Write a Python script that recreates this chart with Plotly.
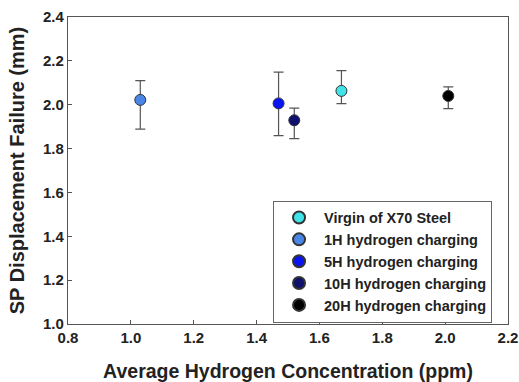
import plotly.graph_objects as go

names = ["Virgin of X70 Steel", "1H hydrogen charging", "5H hydrogen charging",
         "10H hydrogen charging", "20H hydrogen charging"]
conc = [1.67, 1.03, 1.47, 1.52, 2.01]
disp = [2.063, 2.022, 2.006, 1.929, 2.040]
err_plus = [0.092, 0.088, 0.143, 0.055, 0.041]
err_minus = [0.058, 0.133, 0.147, 0.084, 0.058]
colors = ["#3FE3E8", "#4A86E8", "#0A14F0", "#10106E", "#000000"]
xticks = [0.8, 1.0, 1.2, 1.4, 1.6, 1.8, 2.0, 2.2]
yticks = [1.0, 1.2, 1.4, 1.6, 1.8, 2.0, 2.2, 2.4]

fig = go.Figure()
for i in range(len(names)):
    fig.add_trace(go.Scatter(
        x=[conc[i]], y=[disp[i]], mode="markers", name=names[i],
        marker=dict(size=11, color=colors[i], line=dict(color="#333333", width=1)),
        error_y=dict(type="data", symmetric=False, array=[err_plus[i]],
                     arrayminus=[err_minus[i]], color="#555555", thickness=1.2, width=5),
    ))

font_family = "Liberation Sans, Arial, sans-serif"
fig.update_layout(
    width=519, height=382,
    margin=dict(l=68, r=11, t=17, b=58),
    paper_bgcolor="white", plot_bgcolor="white",
    font=dict(family=font_family, color="#222222"),
    showlegend=True,
    legend=dict(x=0.466, y=0.402, xanchor="left", yanchor="top",
                bordercolor="#666666", borderwidth=1, bgcolor="white",
                font=dict(size=14.5, family=font_family, color="#222222", weight="bold"),
                itemsizing="constant", itemwidth=40, tracegroupgap=0),
    xaxis=dict(range=[0.8, 2.2], tickvals=xticks,
               ticktext=[f"{v:.1f}" for v in xticks],
               ticks="inside", ticklen=4, tickcolor="#555555",
               showline=True, linecolor="#555555", linewidth=1.2, mirror=True,
               showgrid=False, zeroline=False, automargin=False,
               tickfont=dict(size=15, weight="bold", color="#222222"),
               title=dict(text="Average Hydrogen Concentration (ppm)",
                          font=dict(size=19.5, weight="bold", color="#222222"), standoff=20)),
    yaxis=dict(range=[1.0, 2.4], tickvals=yticks,
               ticktext=[f"{v:.1f}" for v in yticks],
               ticks="inside", ticklen=4, tickcolor="#555555",
               showline=True, linecolor="#555555", linewidth=1.2, mirror=True,
               showgrid=False, zeroline=False, automargin=False,
               tickfont=dict(size=15, weight="bold", color="#222222"),
               title=dict(text="SP Displacement Failure (mm)",
                          font=dict(size=20, weight="bold", color="#222222"), standoff=13)),
)

fig.write_html("out.html")
